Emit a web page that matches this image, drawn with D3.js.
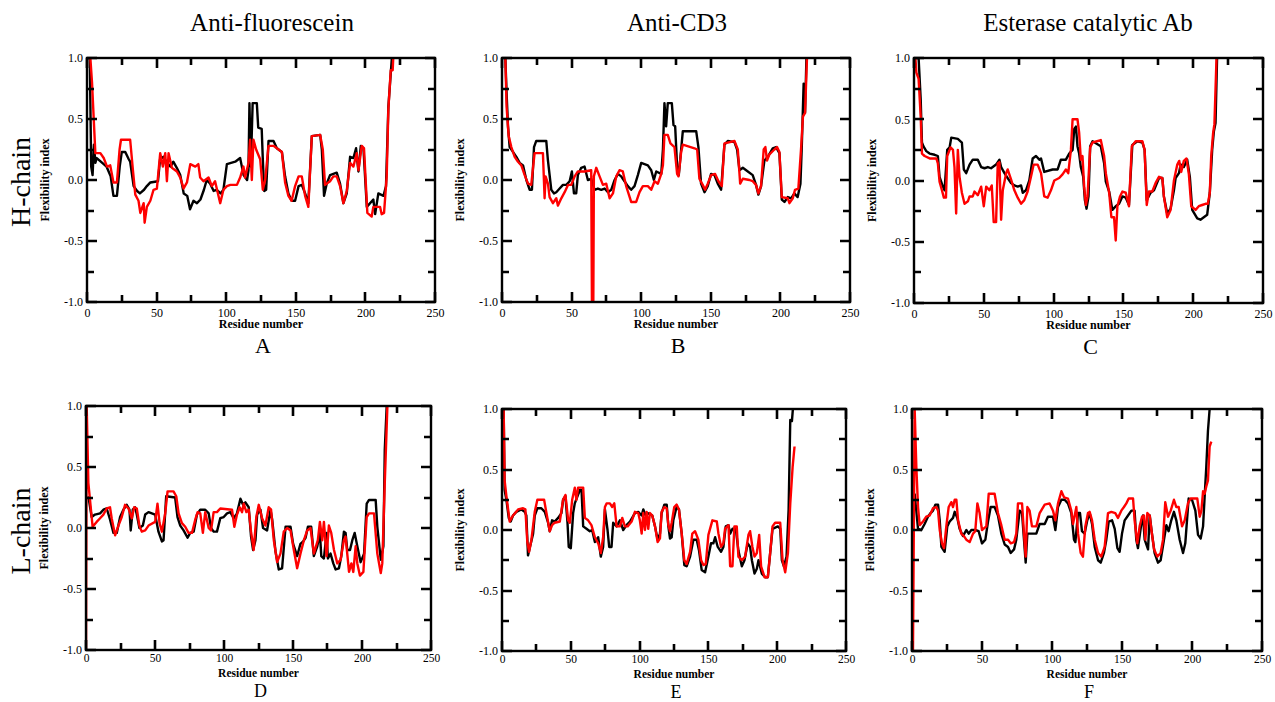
<!DOCTYPE html>
<html>
<head>
  <meta charset="UTF-8">
  <title>Flexibility index</title>
  <style>
    body { margin: 0; background: #fff; }
    svg text { font-family: 'Liberation Serif', 'Times New Roman', 'DejaVu Serif', serif; fill: #000; }
    .tick text { font-size: 12px; }
    .axis-title { font-size: 12px; font-weight: bold; }
    .col-title { font-size: 25px; }
    .row-title { font-size: 28px; }
    .frame { fill: none; stroke: #000; stroke-width: 2.4; }
    .series { fill: none; stroke-width: 2.4; stroke-linejoin: round; }
  </style>
</head>
<body>
<script src="https://cdnjs.cloudflare.com/ajax/libs/d3/7.8.5/d3.min.js"></script>
<script>
/// params

var residueTicks = [0, 50, 100, 150, 200, 250];
var residueMinor = [25, 75, 125, 175, 225];
var flexTicks = [-1.0, -0.5, 0.0, 0.5, 1.0];
var flexMinor = [-0.75, -0.25, 0.25, 0.75];
var columnTitles = ["Anti-fluorescein", "Anti-CD3", "Esterase catalytic Ab"];
var rowTitles = ["H-chain", "L-chain"];
var panelLetters = ["A", "B", "C", "D", "E", "F"];

// [residue, flexibility index]
var hA_black = [[0.5,1.0],[2,1.0],[3,0.11],[4,0.04],[5,0.29],[6,0.14],[7,0.18],[12,0.13],[14,0.11],[17,0.03],[19,-0.13],[21.5,-0.13],[23.5,0.11],[25,0.23],[27.5,0.23],[30,0.17],[31,0.15],[33.5,-0.05],[36,-0.09],[38,-0.11],[41,-0.08],[43,-0.05],[45.5,-0.02],[51,-0.01],[52.5,0.17],[55,0.19],[57.5,0.14],[60,0.11],[62,0.15],[64.5,0.10],[67,0.04],[69.5,-0.11],[72,-0.13],[74,-0.24],[76.5,-0.17],[79,-0.19],[81.5,-0.16],[84,-0.08],[86,0.0],[88.5,-0.03],[91,-0.09],[93,-0.08],[96,-0.11],[98,-0.08],[100.5,0.13],[106.5,0.15],[110,0.18],[112.5,0.04],[115,0.0],[116,0.08],[116.7,0.63],[117.7,0.11],[119,0.63],[122,0.63],[123,0.43],[125.5,0.42],[126.3,0.17],[127.3,-0.09],[128.7,-0.08],[130.4,0.32],[134,0.32],[136.4,0.26],[140,0.23],[142.3,0.03],[144.7,-0.11],[147,-0.17],[149.5,-0.17],[152,-0.05],[154.3,-0.04],[156.7,-0.11],[159,-0.19],[161.5,0.36],[167.5,0.37],[168.7,0.25],[170.3,-0.13],[172.2,-0.03],[174.6,0.04],[179.4,0.06],[181.8,-0.03],[184.2,-0.19],[186.6,-0.11],[189,0.19],[191.4,0.18],[193.3,0.26],[195,0.07],[196.7,0.28],[198.6,0.26],[201,-0.22],[205.7,-0.16],[207,-0.28],[209.3,-0.11],[213,-0.13],[214.8,-0.05],[216.5,0.6],[219,1.0]];
var hA_red = [[2.4,1.0],[3.6,0.8],[6,0.22],[9.6,0.22],[12,0.18],[14.4,0.11],[16.7,0.12],[19,-0.02],[21.5,-0.02],[23.4,0.25],[24.4,0.33],[31,0.33],[33,0.08],[34.7,-0.12],[37,-0.17],[38.3,-0.27],[40.7,-0.19],[41.4,-0.35],[43,-0.22],[45.5,-0.17],[47.8,-0.08],[50.2,-0.07],[52.6,0.22],[54.5,0.11],[56.2,0.22],[57.4,-0.01],[58.6,0.22],[61,0.10],[64.6,0.07],[67,0.02],[69.4,-0.07],[71.8,-0.02],[74.2,0.13],[77.8,0.11],[80,0.13],[81.3,0.02],[83.7,-0.01],[87.3,0.02],[89.7,-0.05],[92,-0.01],[95.7,-0.19],[98,-0.08],[100.5,-0.05],[103,-0.04],[107.7,-0.04],[110,0.02],[112.4,0.11],[113.6,0.02],[116,0.14],[117.2,0.33],[118.4,0.0],[119.6,0.33],[121.5,0.25],[124.4,0.17],[126.3,-0.08],[128,0.0],[130.4,0.28],[134,0.28],[137.6,0.25],[140,0.23],[142.3,-0.02],[144.7,-0.13],[147,-0.17],[149.5,-0.05],[152,0.03],[154.3,0.03],[156.7,-0.13],[159,-0.22],[161.5,0.36],[167.5,0.37],[169.4,0.25],[171,-0.04],[174.6,-0.01],[177,0.03],[179.4,0.03],[181.8,-0.05],[184.2,-0.19],[186.6,-0.09],[189,0.14],[191.4,0.11],[193.8,0.22],[195,0.08],[197.4,0.28],[199,0.26],[201.4,-0.27],[204.5,-0.3],[205.7,-0.22],[210.5,-0.22],[211.7,-0.28],[213.4,-0.27],[215.3,0.03],[216.5,0.58],[218.2,0.9],[219.6,0.9],[220,1.0]];

var hB_black = [[2.4,1.0],[3.3,0.71],[4.3,0.44],[5.5,0.27],[7.9,0.23],[10.3,0.19],[12.7,0.14],[15.1,0.12],[17.5,0.0],[19.9,-0.08],[21.5,-0.08],[23,0.27],[24.6,0.32],[31.8,0.32],[33,0.16],[35.4,-0.08],[37.3,-0.11],[39,-0.1],[41.4,-0.07],[43.8,-0.04],[46.2,-0.04],[48.6,-0.01],[50.2,0.07],[51.7,-0.11],[53.3,-0.11],[54.5,0.04],[56.9,0.10],[59.3,0.11],[61.7,0.0],[64.1,0.01],[66.5,-0.08],[68.9,-0.07],[71.3,-0.08],[73.7,-0.07],[76.1,-0.1],[78.5,-0.08],[80.9,0.0],[83.3,0.05],[85.6,0.03],[88,-0.01],[90.4,-0.05],[92.8,-0.08],[95.2,-0.05],[97.6,0.04],[100,0.14],[104.8,0.12],[107.2,0.08],[109.1,0.0],[110.8,0.07],[114.4,0.05],[115.6,0.25],[116.7,0.63],[117.9,0.44],[119.1,0.63],[122,0.63],[123.2,0.45],[124.4,0.44],[125.8,0.11],[127,0.04],[128.7,0.25],[129.9,0.40],[139.5,0.40],[141.1,0.27],[143,-0.03],[145.5,-0.1],[147.8,-0.05],[150.2,0.05],[152.6,0.04],[155,-0.03],[157.4,-0.08],[159.8,0.29],[162.2,0.32],[167,0.31],[168.9,0.25],[170.6,0.08],[173,0.10],[176.6,0.07],[180.1,0.04],[182.5,-0.04],[184.2,-0.12],[186.1,-0.05],[188.5,0.16],[190.9,0.19],[194.5,0.26],[196.9,0.27],[199.3,0.22],[201,-0.16],[202.9,-0.18],[205.3,-0.14],[207.7,-0.15],[210,-0.11],[212.4,-0.14],[214.4,-0.03],[215.3,0.25],[216.7,0.79],[217.7,0.55],[218.7,1.0]];
var hB_red = [[2.4,1.0],[3.3,0.6],[4.8,0.36],[6.7,0.27],[9.1,0.19],[11.5,0.15],[13.9,0.12],[16.3,0.04],[18.7,-0.03],[21,-0.04],[23.4,0.22],[29.4,0.22],[30.6,-0.15],[31.3,0.03],[33,-0.03],[34.2,-0.14],[36.6,-0.19],[39,-0.15],[40.2,-0.21],[42.6,-0.15],[45,-0.1],[47.4,-0.04],[49.8,-0.04],[52.2,0.03],[54.5,0.07],[59.3,0.07],[64.1,0.08],[64.6,-1.0],[65.6,-1.0],[66,0.03],[67.7,0.10],[70.1,0.03],[72.5,-0.04],[74.9,-0.03],[77.3,-0.15],[79.7,-0.11],[82.1,0.03],[84.4,0.08],[86.8,0.07],[89.2,-0.05],[92.8,-0.18],[96.4,-0.18],[98.8,-0.10],[101.2,-0.05],[104.8,-0.05],[107.2,-0.08],[109.6,-0.01],[112,-0.03],[114.4,0.05],[115.6,0.12],[116.7,0.37],[119.1,0.37],[121,0.30],[123.9,0.27],[125.8,0.05],[126.8,0.03],[128.7,0.23],[129.9,0.29],[138.3,0.26],[140.2,0.25],[141.8,0.01],[144.2,-0.04],[145.9,-0.08],[147.8,-0.03],[150.2,0.04],[153.1,0.05],[155.5,-0.01],[157.9,-0.05],[159.8,0.3],[167,0.32],[169.4,0.25],[171.1,-0.03],[173,0.01],[177.8,0.0],[180.1,-0.01],[182.5,-0.04],[184.2,-0.11],[186.1,-0.05],[188,0.25],[189.2,0.27],[190.4,0.16],[192.1,0.21],[195.7,0.25],[197.6,0.27],[199.3,0.23],[201,-0.14],[205.3,-0.15],[206.5,-0.19],[208.9,-0.15],[210.5,-0.08],[212.9,-0.07],[214.8,0.25],[216.2,0.52],[217.7,0.55],[219.1,1.0]];

var hC_black = [[1,1.0],[3.3,1.0],[4.8,0.66],[5.7,0.31],[6.7,0.28],[8.8,0.24],[11.2,0.22],[14.8,0.21],[17.1,0.2],[18.3,0.03],[20.7,-0.05],[21.9,-0.08],[23.8,0.25],[25.5,0.27],[26.7,0.35],[31.4,0.34],[34.3,0.31],[35.7,0.09],[37.4,0.06],[39.8,0.13],[42.1,0.17],[45.7,0.17],[48.1,0.11],[50.5,0.10],[52.9,0.11],[55.2,0.10],[58.8,0.13],[61.2,0.17],[62.4,0.11],[64.8,0.06],[67.1,0.02],[69.5,-0.02],[71.9,-0.04],[74.3,-0.05],[76.7,-0.04],[77.9,-0.1],[80.2,-0.08],[82.6,0.0],[85,0.18],[87.4,0.2],[89.8,0.17],[91,0.18],[93.3,0.07],[99.3,0.09],[102.9,0.09],[105.2,0.17],[108.8,0.17],[111.2,0.22],[113.6,0.25],[114.8,0.42],[116,0.44],[117.1,0.28],[118.3,0.22],[119.5,0.11],[121.2,0.03],[122.4,-0.16],[123.6,-0.23],[125,-0.13],[126.2,0.28],[127.9,0.32],[133.8,0.28],[136.2,0.14],[137.4,-0.01],[139.8,-0.09],[142.1,-0.24],[144.5,-0.21],[146.9,-0.19],[149.3,-0.13],[151.7,-0.14],[154,-0.2],[156.4,0.29],[160,0.32],[163.6,0.31],[165.2,0.25],[166.7,-0.16],[169.5,-0.1],[171.9,-0.08],[175.5,0.02],[177.9,0.02],[179,-0.13],[181.4,-0.27],[183.8,-0.23],[186.2,-0.08],[187.4,0.02],[189.8,0.06],[191,0.13],[193.3,0.11],[195.7,0.17],[197.6,0.03],[199.3,-0.24],[202.9,-0.31],[205.2,-0.32],[207.6,-0.3],[210,-0.28],[211.9,-0.1],[213.6,0.25],[214.8,0.40],[216,0.47],[217.1,1.0]];
var hC_red = [[1,1.0],[1.7,0.88],[3.3,0.83],[4.8,0.52],[5.7,0.22],[7.6,0.2],[11.2,0.18],[16,0.18],[17.1,0.14],[18.3,-0.01],[20,-0.08],[21.4,-0.14],[22.9,-0.14],[23.8,0.2],[26.2,0.27],[27.9,0.25],[29,0.11],[30.2,-0.27],[31.4,0.25],[32.6,0.03],[34.3,-0.1],[36.2,-0.19],[38.6,-0.17],[39.8,-0.13],[42.1,-0.13],[43.3,-0.09],[45.7,-0.12],[48.1,-0.05],[50,-0.21],[51.7,-0.05],[54,-0.08],[55.7,-0.04],[57.1,-0.34],[58.8,-0.34],[60,0.14],[61.2,0.15],[62.4,-0.32],[63.6,-0.08],[66,0.06],[67.1,0.09],[69.5,0.01],[71.9,-0.08],[74.3,-0.14],[76.7,-0.19],[79,-0.16],[81.4,-0.09],[83.8,0.03],[85.7,0.13],[88.6,0.13],[91,0.06],[93.3,-0.13],[95.7,-0.14],[98.1,-0.08],[100.5,0.0],[104,0.02],[106.4,0.05],[108.8,0.09],[110.5,0.06],[112.4,0.25],[113.6,0.5],[117.1,0.5],[118.3,0.39],[119.5,0.17],[120.7,0.2],[121.9,-0.05],[123.1,-0.2],[124.3,-0.13],[126.2,0.27],[127.9,0.31],[133.8,0.33],[136.2,0.2],[137.4,0.06],[139.8,-0.1],[141.4,-0.3],[143.3,-0.3],[144.5,-0.49],[145.7,-0.21],[147.6,-0.13],[149.3,-0.09],[151.7,-0.1],[154,-0.21],[156,0.28],[158.8,0.32],[163.6,0.32],[165.2,0.25],[166.7,-0.2],[168.3,-0.09],[170.7,-0.09],[173.1,-0.02],[175.5,0.03],[177.9,0.02],[179,-0.13],[181.4,-0.3],[183.8,-0.24],[186.2,0.0],[188.6,0.13],[190,0.16],[191.4,0.07],[193.3,0.16],[195.2,0.18],[196.9,0.05],[198.6,-0.21],[201.7,-0.24],[204,-0.21],[206.4,-0.2],[208.8,-0.19],[210.5,-0.19],[211.9,-0.1],[212.9,0.2],[214.3,0.39],[215.2,0.46],[216.7,1.0]];

var lD_black = [[1.7,0.26],[4.1,0.09],[6.5,0.11],[10.2,0.12],[12.6,0.15],[15,0.16],[17.4,0.07],[19.9,-0.04],[22.3,-0.04],[24.7,0.09],[27.1,0.15],[29.5,0.19],[31.5,0.15],[32.4,-0.02],[33.9,0.15],[35.6,0.17],[36.8,0.11],[38.7,0.0],[41.2,0.02],[42.9,0.11],[45.3,0.13],[47.7,0.12],[50.1,0.11],[52.5,-0.03],[55,-0.11],[56.2,-0.1],[58.1,0.26],[64.6,0.25],[66.3,0.09],[68.3,0.02],[70.7,-0.02],[73.6,-0.08],[75.5,-0.04],[78,-0.03],[80.4,0.11],[82.8,0.15],[86.4,0.15],[88.9,0.12],[90.6,0.0],[92.5,-0.03],[94.9,-0.03],[97.3,0.08],[99.8,0.09],[102.2,0.12],[104.6,0.13],[107,0.08],[109.4,0.12],[111.9,0.24],[113.8,0.19],[115.5,0.21],[117.9,0.17],[119.6,-0.07],[121.1,-0.18],[122.8,-0.1],[124,0.11],[126.4,0.15],[128.3,0.0],[131.2,-0.02],[133.7,0.15],[134.9,0.07],[137.3,-0.19],[139.7,-0.34],[142.1,-0.33],[144.6,0.01],[148.2,0.01],[150.1,-0.13],[153,-0.23],[155.4,-0.13],[157.4,-0.11],[159.1,-0.08],[160.8,0.01],[163.2,0.01],[165.1,-0.23],[167.6,-0.15],[169.5,-0.04],[170.5,-0.23],[172.4,-0.25],[174.3,-0.04],[175.3,-0.25],[177.2,-0.21],[179.2,-0.29],[180.9,-0.34],[183.3,-0.33],[185,-0.23],[186.9,-0.03],[188.1,-0.04],[189.3,-0.18],[191.3,-0.18],[193,-0.1],[194.7,-0.04],[196.6,-0.15],[199,-0.28],[201.5,-0.21],[203.4,0.2],[205.1,0.23],[209.9,0.23],[211.1,0.01],[213.6,-0.26],[215.5,-0.15],[216.5,0.64],[217.9,1.0]];
var lD_red = [[0,-1.0],[0.5,1.0],[1.7,0.37],[2.9,0.23],[4.8,0.01],[7.7,0.05],[10.2,0.08],[12.6,0.11],[15,0.16],[17.4,0.17],[18.6,0.08],[21.1,-0.06],[23.5,0.02],[25.9,0.09],[28.3,0.19],[30.8,0.16],[33.2,0.08],[34.9,0.17],[36.8,0.16],[38.7,0.02],[40.4,-0.03],[42.9,-0.02],[45.3,0.02],[50.1,0.05],[51.8,0.2],[53.3,0.04],[55,-0.03],[57.4,0.12],[59.1,0.3],[63.4,0.3],[65.4,0.26],[67.1,0.12],[69.5,0.04],[71.9,0.01],[74.3,-0.04],[76.8,-0.04],[79.2,0.07],[80.9,0.13],[82.8,0.12],[84.7,-0.04],[86.4,0.13],[88.9,0.0],[90.6,-0.02],[92.5,0.13],[94.9,0.13],[97.3,0.16],[105.8,0.15],[107.5,0.01],[109.4,0.11],[111.4,0.17],[113.1,0.13],[114.3,0.2],[116.2,0.13],[117.9,0.15],[119.6,-0.03],[121.5,-0.18],[123.4,0.09],[125.2,0.19],[127.6,0.08],[130,0.02],[132.4,0.17],[134.1,0.15],[136.1,-0.10],[138.5,-0.28],[140.9,-0.21],[143.3,-0.03],[145.8,0.0],[148.2,-0.02],[150.6,-0.18],[153,-0.33],[155.4,-0.21],[157.9,-0.10],[160.3,-0.02],[162.7,0.0],[165.1,-0.21],[168,-0.10],[169.5,0.05],[171.2,-0.10],[172.4,0.05],[174.3,-0.23],[176,0.02],[177.7,-0.04],[179.7,-0.18],[182.1,-0.29],[184.5,-0.26],[186.9,-0.10],[188.1,-0.07],[189.3,-0.21],[190.6,-0.36],[192.3,-0.29],[193.7,-0.36],[195.4,-0.15],[196.6,-0.29],[198.5,-0.39],[201,-0.36],[203.4,0.09],[205.1,0.12],[208.7,0.12],[211.1,-0.21],[213.6,-0.37],[214.7,-0.29],[216.5,0.37],[218.4,1.0]];

var lE_black = [[1.2,1.0],[1.9,0.33],[3.2,0.25],[4.9,0.1],[6.3,0.07],[8,0.12],[10.4,0.15],[14.1,0.17],[16.5,0.15],[17.7,0.12],[18.9,-0.21],[20.1,-0.15],[22.6,-0.03],[23.8,0.12],[25.7,0.18],[28.6,0.18],[31.1,0.15],[33.5,0.06],[34.7,-0.01],[36.4,0.08],[38.3,0.07],[40.8,0.1],[43.2,0.14],[44.4,0.25],[46.1,0.28],[47.6,0.06],[48.5,-0.14],[50,-0.15],[51.7,0.14],[52.9,0.22],[54.9,0.28],[56.6,0.33],[57.8,0.33],[59,0.03],[61.4,0.01],[63.8,-0.01],[65.5,0.0],[67.5,-0.1],[69.9,-0.06],[71.8,-0.22],[73.5,-0.14],[74.8,0.17],[76.7,0.0],[77.9,-0.14],[79.6,-0.14],[80.8,0.06],[83.3,0.03],[85.7,0.08],[88.1,0.0],[90.5,0.04],[93,0.07],[96.6,0.14],[99,0.15],[101.5,0.12],[102.7,0.17],[104.4,0.12],[105.8,0.14],[109.2,0.12],[111.2,0.03],[113.1,-0.08],[114.8,-0.03],[116,0.14],[118,0.21],[119.7,0.21],[120.9,0.03],[122.1,-0.07],[123.3,-0.06],[124.5,0.08],[126.9,0.19],[128.6,0.17],[130.6,-0.03],[132.5,-0.29],[134.2,-0.3],[136.7,-0.22],[139.1,-0.08],[141.5,-0.08],[143.2,-0.17],[145.1,-0.33],[147.6,-0.35],[150,-0.22],[151.9,-0.11],[153.6,-0.11],[154.9,-0.06],[156.8,-0.14],[159.2,-0.18],[160.9,-0.14],[162.6,0.03],[164.6,0.04],[165.8,-0.03],[167.5,0.01],[169.9,0.01],[171.8,-0.17],[174.3,-0.3],[176.2,-0.25],[178.6,-0.11],[180.3,-0.14],[181.6,-0.25],[183.5,-0.36],[185.2,-0.32],[186.4,-0.25],[188.8,-0.36],[191.3,-0.39],[193.2,-0.39],[194.9,-0.19],[196.6,0.01],[200.5,0.03],[202.2,0.01],[203.4,-0.25],[204.9,-0.3],[206.8,-0.22],[208.3,0.17],[209.5,0.91],[210.7,0.9],[211.4,1.0]];
var lE_red = [[1.2,1.0],[1.9,0.41],[3.2,0.28],[5.6,0.07],[8,0.12],[11.7,0.17],[15.3,0.18],[17,0.17],[18.4,-0.1],[19.7,-0.18],[21.4,-0.08],[23.8,0.15],[25.7,0.25],[30.6,0.25],[32.3,0.14],[34.7,-0.01],[36.4,0.04],[38.3,0.06],[42,0.07],[44.4,0.25],[46.1,0.29],[48.1,0.08],[49.3,0.06],[51,0.25],[52.9,0.35],[54.1,0.25],[55.3,0.35],[59,0.35],[60.2,0.1],[62.6,0.08],[65,0.04],[67.5,-0.06],[69.9,-0.11],[71.8,-0.19],[73.5,-0.06],[74.8,0.19],[76,0.22],[78.4,0.22],[80.1,0.19],[81.6,0.22],[83.3,0.03],[85.7,0.03],[87.4,0.1],[89.3,0.03],[91.3,0.03],[94.2,0.07],[96.6,0.15],[99,0.14],[100.2,0.08],[101.5,-0.03],[102.7,0.14],[103.9,0.0],[105.1,0.15],[106.3,0.01],[107.5,0.14],[109.2,0.12],[111.2,0.03],[113.1,-0.1],[114.8,-0.07],[116,0.15],[118,0.19],[119.7,0.18],[120.9,0.04],[122.1,-0.01],[123.3,0.06],[125.2,0.19],[126.9,0.21],[128.6,0.17],[130.6,-0.03],[132.5,-0.25],[134.2,-0.28],[136.7,-0.18],[138.3,-0.03],[140.3,-0.01],[142.7,-0.08],[144.7,-0.25],[146.4,-0.29],[148.1,-0.28],[150,-0.04],[152.9,0.08],[156.1,0.07],[157.3,-0.03],[159.2,-0.14],[160.9,-0.11],[162.1,0.01],[164.6,0.04],[165.8,-0.3],[167.5,-0.3],[168.9,0.03],[170.6,0.03],[171.8,-0.22],[174.3,-0.25],[176.7,-0.22],[179.1,-0.04],[180.3,-0.01],[182,-0.14],[183.5,-0.22],[185.2,-0.19],[186.9,-0.04],[188.3,-0.3],[190.8,-0.39],[193.2,-0.39],[194.9,-0.19],[196.6,0.03],[198.5,0.06],[202.2,0.06],[203.9,-0.25],[205.8,-0.35],[207.8,-0.19],[209.5,0.22],[211.2,0.52],[212.6,0.69]];

var lF_black = [[1.9,0.3],[4.3,0.01],[6.7,0.0],[9,0.05],[11.4,0.11],[13.3,0.14],[15,0.16],[16.7,0.21],[18.6,0.21],[19.8,0.08],[21,-0.14],[23.3,-0.18],[25.2,0.03],[26.9,0.07],[29.3,0.10],[30.5,0.15],[32.4,0.10],[34,0.01],[36.4,-0.05],[38.8,0.0],[40.5,-0.03],[42.4,0.0],[45.2,0.0],[47.6,-0.01],[50,-0.11],[52.4,-0.08],[54.3,0.07],[56.2,0.19],[59,0.19],[61.4,0.12],[63.8,-0.03],[66.2,-0.12],[68.6,-0.14],[70.5,-0.19],[72.9,-0.16],[74.5,-0.08],[76.9,0.16],[78.6,0.14],[80,-0.08],[81.2,-0.27],[82.4,-0.03],[88.8,-0.03],[91.2,0.05],[94.8,0.05],[97.1,0.11],[100.7,0.11],[102.4,0.0],[104.3,0.19],[106.7,0.25],[109,0.25],[111.4,0.22],[113.8,0.14],[115.7,-0.08],[116.7,-0.10],[118.6,0.14],[120,0.14],[121.4,-0.01],[123.3,-0.03],[125.2,0.08],[126.9,0.14],[128.6,0.05],[130.5,-0.14],[132.9,-0.25],[134.8,-0.27],[137.1,-0.19],[138.8,-0.08],[140.5,0.07],[142.9,0.08],[144.8,0.01],[146.7,-0.15],[148.3,-0.18],[150,-0.03],[151.9,0.08],[154.3,0.12],[156.7,0.16],[159,0.16],[160.2,-0.08],[161.4,-0.15],[163.8,0.05],[165,0.12],[166.2,-0.08],[168.6,-0.16],[169.8,0.12],[171.4,-0.03],[173.3,-0.19],[175.7,-0.27],[177.6,-0.25],[180,-0.08],[181.7,0.04],[183.3,-0.01],[185.2,0.08],[187.1,0.15],[188.8,0.08],[191.2,-0.08],[193.6,-0.19],[195.2,-0.11],[197.6,0.26],[200,0.25],[202.4,0.16],[204.3,-0.04],[206.2,-0.07],[207.9,0.03],[209,0.27],[210.2,0.52],[211.4,0.82],[212.6,1.0]];
var lF_red = [[0.7,-1.0],[1.9,1.0],[3.1,0.52],[4.3,0.19],[5.5,0.04],[7.9,0.07],[10.2,0.11],[12.6,0.12],[15,0.18],[17.4,0.19],[18.6,0.16],[19.8,0.0],[21.4,-0.11],[22.9,-0.15],[24.5,0.03],[26.2,0.19],[28.1,0.23],[29.3,0.19],[30.5,0.25],[31.7,0.25],[32.9,0.08],[35.2,-0.03],[37.1,-0.05],[38.8,-0.08],[41.2,-0.1],[43.6,-0.03],[45.2,-0.01],[46.7,0.22],[48.3,0.14],[50,0.0],[53.1,0.03],[54.8,0.3],[59,0.3],[61.4,0.14],[63.8,0.04],[66.2,-0.08],[68.6,-0.08],[70.5,-0.11],[72.9,-0.10],[74.5,-0.03],[75.7,0.22],[78.6,0.22],[80,-0.03],[81.2,-0.22],[82.4,0.19],[84,0.16],[85.7,0.03],[88.8,0.03],[91.2,0.14],[94.8,0.21],[98.3,0.22],[100.7,0.16],[102.4,0.08],[104.3,0.22],[106.7,0.32],[108.6,0.27],[111.4,0.26],[113.8,0.16],[115,0.05],[117.4,0.19],[118.6,-0.03],[120.5,-0.19],[122.1,-0.22],[123.8,0.03],[125.7,0.14],[126.9,0.15],[128.6,0.08],[130.5,-0.08],[132.9,-0.19],[135.2,-0.22],[137.6,-0.14],[140,0.14],[142.4,0.15],[145.2,0.14],[147.1,0.10],[149.5,0.16],[151.4,0.19],[153.1,0.22],[154.8,0.26],[157.9,0.26],[159,0.08],[160.9,-0.11],[162.6,0.03],[164.3,0.11],[165.7,0.12],[166.7,-0.08],[168.1,0.14],[169.8,0.12],[171,0.0],[172.9,-0.16],[175.2,-0.22],[177.6,-0.19],[179.3,-0.08],[180.9,0.23],[182.9,0.11],[184.8,0.16],[187.1,0.25],[188.8,0.19],[190.5,0.19],[192.9,0.03],[194.8,0.08],[197.1,0.22],[199,0.26],[203.8,0.26],[205.5,0.11],[206.7,0.16],[207.9,0.32],[209,0.3],[210.2,0.36],[211.4,0.41],[212.6,0.69],[213.8,0.73]];

/// layout

var panels = [
  {x: 87,  y: 58,  w: 348, h: 244, black: hA_black, red: hA_red},
  {x: 502, y: 58,  w: 348, h: 244, black: hB_black, red: hB_red},
  {x: 914, y: 58,  w: 349, h: 245, black: hC_black, red: hC_red},
  {x: 86,  y: 406, w: 345, h: 244, black: lD_black, red: lD_red},
  {x: 502, y: 409, w: 344, h: 242, black: lE_black, red: lE_red},
  {x: 912, y: 409, w: 350, h: 242, black: lF_black, red: lF_red}
];
var titleX = [272, 677, 1088];
var rowY = [182, 531];
var majorLen = 10, minorLen = 7;

var svg = d3.select("body").append("svg")
    .attr("width", 1275)
    .attr("height", 702);

var fmt = function(d) { return d.toFixed(1); };

panels.forEach(function(p, i) {
  var x = d3.scaleLinear().domain([0, 250]).range([0, p.w]);
  var y = d3.scaleLinear().domain([-1, 1]).range([p.h, 0]);
  var top = i < 3;

  var g = svg.append("g").attr("transform", "translate(" + p.x + "," + p.y + ")");

  g.append("clipPath").attr("id", "clip" + i)
    .append("rect").attr("width", p.w).attr("height", p.h);

  var line = d3.line().x(function(d) { return x(d[0]); }).y(function(d) { return y(d[1]); });

  g.append("path").datum(p.black)
    .attr("class", "series").attr("stroke", "#000")
    .attr("clip-path", "url(#clip" + i + ")").attr("d", line);
  g.append("path").datum(p.red)
    .attr("class", "series").attr("stroke", "#ff0000")
    .attr("clip-path", "url(#clip" + i + ")").attr("d", line);

  // labels from d3 axes
  var xa = g.append("g").attr("transform", "translate(0," + p.h + ")")
    .call(d3.axisBottom(x).tickValues(residueTicks).tickSize(0).tickPadding(top ? 6 : 4).tickFormat(d3.format("d")));
  var ya = g.append("g")
    .call(d3.axisLeft(y).tickValues(flexTicks).tickSize(0).tickPadding(4).tickFormat(fmt));
  [xa, ya].forEach(function(a) {
    a.select(".domain").remove();
    a.attr("font-family", null).attr("font-size", null);
  });
  if (!top) xa.selectAll("text").style("font-size", "11.5px");

  // inward tick marks on all four sides, one path
  var tk = d3.path();
  residueTicks.map(function(v) { return [v, majorLen]; })
    .concat(residueMinor.map(function(v) { return [v, minorLen]; }))
    .forEach(function(t) {
      var px = Math.round(x(t[0]));
      tk.moveTo(px, p.h); tk.lineTo(px, p.h - t[1]);
      tk.moveTo(px, 0); tk.lineTo(px, t[1]);
    });
  flexTicks.map(function(v) { return [v, majorLen]; })
    .concat(flexMinor.map(function(v) { return [v, minorLen]; }))
    .forEach(function(t) {
      var py = Math.round(y(t[0]));
      tk.moveTo(0, py); tk.lineTo(t[1], py);
      tk.moveTo(p.w, py); tk.lineTo(p.w - t[1], py);
    });
  g.append("path").attr("d", tk.toString())
    .attr("fill", "none").attr("stroke", "#000").attr("stroke-width", 2.6);

  g.append("rect").attr("class", "frame").attr("width", p.w).attr("height", p.h);

  g.append("text").attr("class", "axis-title")
    .attr("x", p.w / 2).attr("y", p.h + (top ? 26 : 27))
    .style("font-size", top ? null : "11.5px")
    .attr("text-anchor", "middle").text("Residue number");

  g.append("text").attr("class", "axis-title")
    .attr("transform", "translate(-38," + (p.h / 2) + ") rotate(-90)")
    .attr("text-anchor", "middle").attr("font-size", 11).text("Flexibility index");

  g.append("text")
    .attr("x", p.w / 2 + 2).attr("y", top ? p.h + 51 : p.h + 47)
    .attr("font-size", top ? 22 : 18)
    .attr("text-anchor", "middle").text(panelLetters[i]);
});

columnTitles.forEach(function(t, i) {
  svg.append("text").attr("class", "col-title")
    .attr("x", titleX[i]).attr("y", 31)
    .attr("text-anchor", "middle").text(t);
});

rowTitles.forEach(function(t, i) {
  svg.append("text").attr("class", "row-title")
    .attr("transform", "translate(30," + rowY[i] + ") rotate(-90)")
    .attr("text-anchor", "middle").text(t);
});
</script>
</body>
</html>
